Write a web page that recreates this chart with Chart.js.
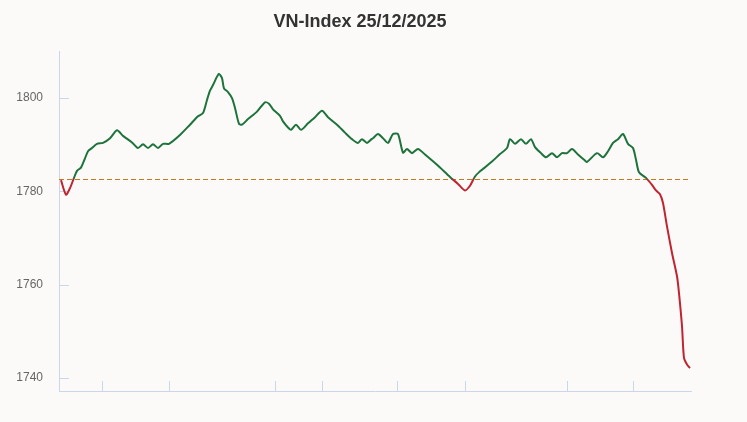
<!DOCTYPE html>
<html>
<head>
<meta charset="utf-8">
<script src="https://cdn.jsdelivr.net/npm/chart.js@4.4.1/dist/chart.umd.min.js"></script>
<style>
  html, body { margin: 0; padding: 0; background: #fbfaf8; }
  #wrap { width: 747px; height: 422px; position: relative; }
</style>
</head>
<body>
<div id="wrap"><canvas id="vnChart"></canvas></div>
<script>
// Tiêu đề biểu đồ
const chartTitle = 'VN-Index 25/12/2025';

// Vị trí theo trục thời gian (đơn vị tương đối trong phiên)
const times = [
  2, 7, 11, 15, 18, 22, 26, 29, 33, 38, 44, 51, 58, 64, 73, 79, 84, 89, 94, 99, 104,
  110, 121, 131, 139, 144, 148, 151, 154, 158, 160, 163, 165, 169, 173, 176, 180, 183,
  189, 198, 206, 210, 214, 221, 224, 229, 232, 237, 242, 249, 256, 263, 269, 278, 286,
  293, 299, 303, 308, 312, 314, 319, 324, 329, 334, 339, 344, 348, 353, 359, 366, 378,
  391, 399, 406, 411, 416, 421, 424, 433, 441, 448, 451, 456, 462, 467, 472, 476, 482,
  487, 493, 498, 503, 508, 513, 519, 526, 528, 538, 544, 549, 554, 559, 564, 569, 574,
  577, 580, 587, 593, 597, 601, 604, 608, 613, 618, 620, 623, 625, 628, 631
];

// Giá trị VN-Index
const indexValues = [
  1782.4, 1779.3, 1780.7, 1782.9, 1784.4, 1785.1, 1787.1, 1788.6, 1789.3, 1790.2, 1790.4,
  1791.4, 1793.1, 1791.9, 1790.5, 1789.3, 1790.1, 1789.3, 1790.1, 1789.3, 1790.2,
  1790.2, 1792.1, 1794.3, 1796.1, 1796.8, 1799.6, 1801.6, 1802.8, 1804.6, 1805.2, 1804.3,
  1802.1, 1801.3, 1800.0, 1797.9, 1794.5, 1794.3,
  1795.5, 1797.1, 1799.1, 1798.8, 1797.6, 1796.2, 1795.0, 1793.7, 1793.2, 1794.3, 1793.2,
  1794.6, 1795.9, 1797.3, 1795.9, 1794.3, 1792.6,
  1791.2, 1790.4, 1791.2, 1790.4, 1791.1, 1791.4, 1792.3, 1791.4, 1790.4, 1792.3, 1792.3,
  1788.3, 1789.1, 1788.2, 1789.1, 1787.9, 1785.7,
  1783.1, 1781.6, 1780.2, 1781.2, 1783.2, 1784.3, 1784.8, 1786.4, 1788.0, 1789.3, 1791.2,
  1790.2, 1791.2, 1790.2, 1791.2, 1789.5, 1788.2,
  1787.3, 1788.2, 1787.3, 1788.2, 1788.2, 1789.1, 1787.9, 1786.6, 1786.3, 1788.2, 1787.3,
  1788.6, 1790.4, 1791.2, 1792.3, 1790.2, 1789.3,
  1786.8, 1784.1, 1782.9, 1781.4, 1780.2, 1779.4, 1777.5, 1772.5, 1766.8, 1761.8, 1758.2,
  1751.1, 1744.3, 1742.9, 1742.1
];

// Mức tham chiếu (đường nét đứt)
const refLevel = 1782.7;

// Nhãn trục Y và vị trí các vạch trên trục X
const yTicks = [1740, 1760, 1780, 1800];
const xTickPositions = [42.5, 109.7, 216.4, 262.6, 338.4, 405.5, 507.5, 573.7];

const upColor = '#1d733b';
const downColor = '#bf2430';
const axisColor = '#ccd6eb';
const refColor = '#c47a1c';

const points = times.map((t, i) => ({ x: t, y: indexValues[i] }));

// Nền + tiêu đề + đường tham chiếu + vạch trục
const decorPlugin = {
  id: 'decor',
  beforeDraw(chart) {
    const ctx = chart.ctx;
    ctx.save();
    ctx.fillStyle = '#fbfaf8';
    ctx.fillRect(0, 0, chart.width, chart.height);
    ctx.restore();
  },
  beforeDatasetsDraw(chart) {
    const { ctx, chartArea, scales } = chart;
    const y = Math.round(scales.y.getPixelForValue(refLevel)) + 0.5;
    ctx.save();
    ctx.strokeStyle = refColor;
    ctx.lineWidth = 1;
    ctx.setLineDash([5, 3]);
    ctx.beginPath();
    ctx.moveTo(chartArea.left, y);
    ctx.lineTo(chartArea.right, y);
    ctx.stroke();
    ctx.setLineDash([]);

    // vạch trục Y (hướng vào trong)
    ctx.strokeStyle = axisColor;
    yTicks.forEach(v => {
      const py = Math.round(scales.y.getPixelForValue(v)) + 0.5;
      ctx.beginPath();
      ctx.moveTo(chartArea.left, py);
      ctx.lineTo(chartArea.left + 10, py);
      ctx.stroke();
    });
    // vạch trục X (hướng lên trên)
    xTickPositions.forEach(v => {
      const px = Math.round(scales.x.getPixelForValue(v)) + 0.5;
      ctx.beginPath();
      ctx.moveTo(px, chartArea.bottom);
      ctx.lineTo(px, chartArea.bottom - 10);
      ctx.stroke();
    });
    ctx.restore();
  },
  afterDraw(chart) {
    const ctx = chart.ctx;
    ctx.save();
    ctx.fillStyle = '#333333';
    ctx.font = 'bold 18px "Liberation Sans", Arial, sans-serif';
    ctx.textAlign = 'center';
    ctx.textBaseline = 'middle';
    ctx.fillText(chartTitle, 360, 22);
    ctx.restore();
  }
};

// Màu đường: xanh trên mức tham chiếu, đỏ dưới
const lineColor = (context) => {
  const chart = context.chart;
  const { ctx, chartArea, scales } = chart;
  if (!chartArea) return upColor;
  const yRef = scales.y.getPixelForValue(refLevel);
  const h = chartArea.bottom - chartArea.top;
  let stop = (yRef - chartArea.top) / h;
  stop = Math.min(Math.max(stop, 0), 1);
  const g = ctx.createLinearGradient(0, chartArea.top, 0, chartArea.bottom);
  g.addColorStop(0, upColor);
  g.addColorStop(stop, upColor);
  g.addColorStop(stop, downColor);
  g.addColorStop(1, downColor);
  return g;
};

const ctx = document.getElementById('vnChart').getContext('2d');
const vnChart = new Chart(ctx, {
  type: 'line',
  data: {
    datasets: [{
      label: 'VN-Index',
      data: points,
      borderColor: lineColor,
      borderWidth: 2,
      pointRadius: 0,
      fill: false,
      tension: 0.25
    }]
  },
  options: {
    responsive: true,
    maintainAspectRatio: false,
    animation: false,
    layout: { padding: { left: 0, right: 56, top: 51, bottom: 31 } },
    plugins: {
      legend: { display: false },
      tooltip: { enabled: false },
      title: { display: false }
    },
    scales: {
      x: {
        type: 'linear',
        min: 0,
        max: 632,
        grid: { display: false, drawTicks: false },
        border: { display: true, color: axisColor, width: 1 },
        ticks: { display: false },
        afterFit: (scale) => { scale.height = 0; }
      },
      y: {
        min: 1737.2,
        max: 1810.1,
        grid: { display: false, drawTicks: false },
        border: { display: true, color: axisColor, width: 1 },
        ticks: {
          stepSize: 20,
          includeBounds: false,
          padding: 16,
          color: '#666666',
          font: { family: '"Liberation Sans", Arial, sans-serif', size: 12 },
          callback: (value) => String(value)
        },
        afterFit: (scale) => { scale.width = 59; }
      }
    }
  },
  plugins: [decorPlugin]
});
</script>
</body>
</html>
